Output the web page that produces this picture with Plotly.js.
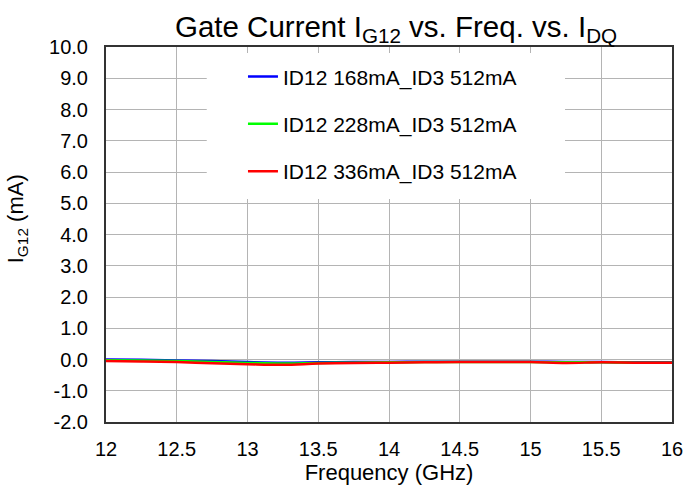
<!DOCTYPE html>
<html>
<head>
<meta charset="utf-8">
<script src="https://cdn.plot.ly/plotly-3.0.1.min.js"></script>
<style>html,body{margin:0;padding:0;background:#fff;}#chart{width:684px;height:485px;}</style>
</head>
<body>
<div id="chart"></div>
<script>
const freq = [12, 12.25, 12.5, 12.75, 13, 13.25, 13.5, 13.75, 14, 14.25, 14.5, 14.75, 15, 15.25, 15.5, 15.75, 16];
const ig_168 = [0.0, -0.01, -0.03, -0.05, -0.08, -0.10, -0.09, -0.08, -0.08, -0.07, -0.07, -0.07, -0.07, -0.08, -0.08, -0.09, -0.09];
const ig_228 = [-0.02, -0.03, -0.05, -0.08, -0.11, -0.13, -0.11, -0.10, -0.09, -0.08, -0.08, -0.08, -0.08, -0.09, -0.09, -0.10, -0.10];
const ig_336 = [-0.05, -0.06, -0.08, -0.12, -0.15, -0.17, -0.13, -0.11, -0.10, -0.09, -0.08, -0.08, -0.08, -0.11, -0.09, -0.10, -0.10];
const seriesNames = ["ID12 168mA_ID3 512mA", "ID12 228mA_ID3 512mA", "ID12 336mA_ID3 512mA"];
const seriesColors = ["#0000ff", "#00ff00", "#ff0000"];
const xTicks = [12, 12.5, 13, 13.5, 14, 14.5, 15, 15.5, 16];
const yTicks = [-2, -1, 0, 1, 2, 3, 4, 5, 6, 7, 8, 9, 10];

const FONT = "Liberation Sans, Arial, Helvetica, sans-serif";
const ys = [ig_168, ig_228, ig_336];
const traces = ys.map((y, i) => ({
  x: freq, y: y, type: "scatter", mode: "lines", name: seriesNames[i],
  legendgroup: "g" + i,
  line: {color: seriesColors[i], width: 2.5, shape: "spline"}
}));

const layout = {
  width: 684, height: 485,
  margin: {l: 106, r: 12, t: 47, b: 63},
  paper_bgcolor: "#fff", plot_bgcolor: "#fff",
  font: {family: FONT, color: "#000", size: 20},
  title: {text: "Gate Current I<sub>G12</sub> vs. Freq. vs. I<sub>DQ</sub>", font: {size: 29.5, family: FONT},
    xref: "container", x: 0.579, xanchor: "center", yref: "container", y: 0.945, yanchor: "middle"},
  xaxis: {
    range: [12, 16], tickvals: xTicks, ticktext: xTicks.map(String),
    showgrid: true, gridcolor: "#b4b4b4", gridwidth: 1,
    showline: true, linecolor: "#333", linewidth: 2, mirror: true,
    ticks: "", ticklabelstandoff: 8, zeroline: false,
    tickfont: {size: 20},
    title: {text: "Frequency (GHz)", font: {size: 22}, standoff: 2}
  },
  yaxis: {
    range: [-2, 10], tickvals: yTicks, ticktext: yTicks.map(v => v.toFixed(1)),
    showgrid: true, gridcolor: "#b4b4b4", gridwidth: 1,
    showline: true, linecolor: "#333", linewidth: 2, mirror: true,
    ticks: "", ticklabelstandoff: 12, zeroline: false,
    tickfont: {size: 20}
  },
  annotations: [{text: "I<sub>G12</sub> (mA)", xref: "paper", yref: "paper", x: -0.157, y: 0.541,
    xanchor: "center", yanchor: "middle", textangle: -90, showarrow: false, font: {size: 22, family: FONT}}],
  shapes: [{type: "rect", xref: "paper", yref: "paper", x0: 0.178, x1: 0.811, y0: 0.595, y1: 0.984, fillcolor: "#fff", line: {width: 0}, layer: "above"}],
  showlegend: true,
  legend: {x: 0.242, xanchor: "left", y: 0.975, yanchor: "top", bgcolor: "rgba(0,0,0,0)", borderwidth: 0,
    font: {size: 21, family: FONT}, traceorder: "grouped", tracegroupgap: 17}
};
Plotly.newPlot("chart", traces, layout, {displayModeBar: false, staticPlot: true});
</script>
</body>
</html>
